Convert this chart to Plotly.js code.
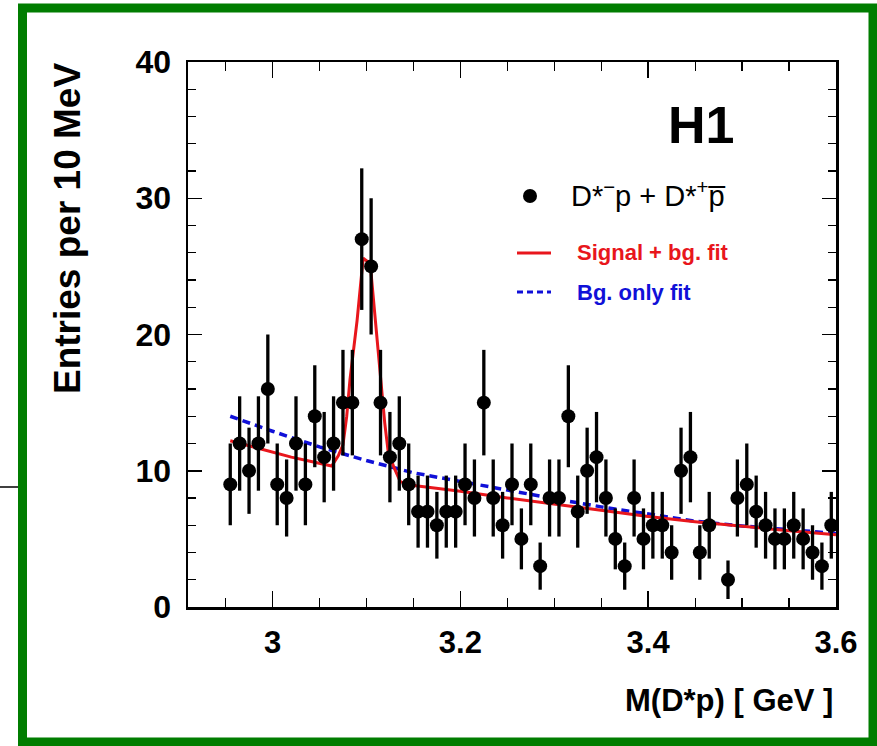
<!DOCTYPE html>
<html>
<head>
<meta charset="utf-8">
<script src="https://cdn.plot.ly/plotly-3.0.1.min.js"></script>
<style>html,body{margin:0;padding:0;background:#fff;}</style>
</head>
<body>
<div id="chart" style="width:877px;height:746px;"></div>
<script>
// Bin centres (GeV), 10 MeV bins
const binCenters = [2.955,2.965,2.975,2.985,2.995,3.005,3.015,3.025,3.035,3.045,
  3.055,3.065,3.075,3.085,3.095,3.105,3.115,3.125,3.135,3.145,
  3.155,3.165,3.175,3.185,3.195,3.205,3.215,3.225,3.235,3.245,
  3.255,3.265,3.275,3.285,3.295,3.305,3.315,3.325,3.335,3.345,
  3.355,3.365,3.375,3.385,3.395,3.405,3.415,3.425,3.435,3.445,
  3.455,3.465,3.475,3.485,3.495,3.505,3.515,3.525,3.535,3.545,
  3.555,3.565,3.575,3.585,3.595];
// Entries per bin
const entries = [9,12,10,12,16,9,8,12,9,14,
  11,12,15,15,27,25,15,11,12,9,
  7,7,6,7,7,9,8,15,8,6,
  9,5,9,3,8,8,14,7,10,11,
  8,5,3,8,5,6,6,4,10,11,
  4,6,0,2,8,9,7,6,5,5,
  6,5,4,3,6];
// Signal + background fit curve
const fitSigX = [2.955,2.98,3.00,3.02,3.04,3.063,3.070,3.075,3.079,3.0825,3.090,3.0965,3.104,3.110,3.116,3.1195,3.123,3.129,3.136,3.146,3.17,3.20,3.25,3.30,3.35,3.40,3.45,3.50,3.55,3.60];
const fitSigY = [12.2,11.75,11.35,11.0,10.7,10.35,11.1,11.9,14.0,16.7,21.0,25.6,25.2,20.8,16.0,13.5,11.5,10.3,9.2,8.95,8.75,8.5,8.0,7.55,7.05,6.65,6.25,5.9,5.6,5.3];
// Background-only fit curve
const fitBgX = [2.955,3.00,3.05,3.10,3.15,3.20,3.25,3.30,3.35,3.40,3.45,3.50,3.55,3.60];
const fitBgY = [14.0,12.9,11.75,10.75,9.85,9.2,8.6,7.95,7.35,6.8,6.3,5.95,5.65,5.4];
// Axis ticks
const xTickVals = [3.0,3.2,3.4,3.6];
const xTickText = ["3","3.2","3.4","3.6"];
const yTickVals = [0,10,20,30,40];

const FONT = "Liberation Sans, Arial, Helvetica, sans-serif";
const W = 877, H = 746, L = 188, R = 836, T = 62, B = 607;
const px = x => (x - L) / (R - L);
const py = y => (B - y) / (B - T);

const shown = binCenters.map((x,i)=>[x,entries[i]]).filter(d=>d[1]>0);
const dataTrace = {
  x: shown.map(d=>d[0]), y: shown.map(d=>d[1]),
  type: 'scatter', mode: 'markers',
  marker: {color:'#000', size:14},
  error_y: {type:'data', array: shown.map(d=>Math.sqrt(d[1])), symmetric:true, color:'#000', thickness:3.3, width:0},
  showlegend:false, cliponaxis:false
};
const bgTrace = {
  x: fitBgX, y: fitBgY, type:'scatter', mode:'lines',
  line:{color:'#1010d8', width:3.5, dash:'8px,5px'}, showlegend:false
};
const sigTrace = {
  x: fitSigX, y: fitSigY, type:'scatter', mode:'lines',
  line:{color:'#e8161c', width:3}, showlegend:false
};

const axisCommon = {
  showline:true, linecolor:'#000', linewidth:2.5, mirror:'allticks',
  ticks:'inside', tickcolor:'#000', tickwidth:1.5,
  showgrid:false, zeroline:false
};

const layout = {
  width: W, height: H,
  margin: {l:L, r:W-R, t:T, b:H-B, pad:0},
  paper_bgcolor:'#fff', plot_bgcolor:'#fff',
  showlegend:false,
  xaxis: Object.assign({}, axisCommon, {
    range:[2.91,3.6], tickmode:'array', tickvals:xTickVals, ticktext:xTickText, ticklen:16,
    ticklabelstandoff:6,
    tickfont:{family:FONT, size:31, color:'#000', weight:'bold'},
    minor:{dtick:0.05, tick0:3.0, ticks:'inside', ticklen:9, tickcolor:'#000', tickwidth:1.2, showgrid:false}
  }),
  yaxis: Object.assign({}, axisCommon, {
    range:[0,40], tickmode:'array', tickvals:yTickVals, ticklen:14,
    ticklabelstandoff:8,
    tickfont:{family:FONT, size:32, color:'#000', weight:'bold'},
    minor:{dtick:2, tick0:0, ticks:'inside', ticklen:8, tickcolor:'#000', tickwidth:1.2, showgrid:false}
  }),
  shapes: [
    {type:'rect', xref:'paper', yref:'paper', x0:px(22.5), x1:px(873), y0:py(742), y1:py(8),
     line:{color:'#007d00', width:9}, fillcolor:'rgba(0,0,0,0)'},
    {type:'line', xref:'paper', yref:'paper', x0:px(0), x1:px(18), y0:py(487), y1:py(487),
     line:{color:'#000', width:1.5}},
    {type:'circle', xref:'paper', yref:'paper', x0:px(523), x1:px(537), y0:py(203), y1:py(189),
     fillcolor:'#000', line:{color:'#000', width:0}},
    {type:'line', xref:'paper', yref:'paper', x0:px(517), x1:px(551), y0:py(253), y1:py(253),
     line:{color:'#e8161c', width:3}},
    {type:'line', xref:'paper', yref:'paper', x0:px(517), x1:px(551), y0:py(292), y1:py(292),
     line:{color:'#1010d8', width:3, dash:'6px,4px'}}
  ],
  annotations: [
    {xref:'paper', yref:'paper', x:px(736), y:py(125), xanchor:'right', yanchor:'middle', showarrow:false,
     text:'H1', font:{family:FONT, size:52, color:'#000', weight:'bold'}},
    {xref:'paper', yref:'paper', x:px(569), y:py(194), xanchor:'left', yanchor:'middle', showarrow:false,
     text:'D*<sup>\u2212</sup>p + D*<sup>+</sup>p\u0305', font:{family:FONT, size:29, color:'#000'}},
    {xref:'paper', yref:'paper', x:px(575), y:py(253), xanchor:'left', yanchor:'middle', showarrow:false,
     text:'Signal + bg. fit', font:{family:FONT, size:22, color:'#e8161c', weight:'bold'}},
    {xref:'paper', yref:'paper', x:px(575), y:py(292), xanchor:'left', yanchor:'middle', showarrow:false,
     text:'Bg. only fit', font:{family:FONT, size:22, color:'#1010d8', weight:'bold'}},
    {xref:'paper', yref:'paper', x:px(835), y:py(700), xanchor:'right', yanchor:'middle', showarrow:false,
     text:'M(D*p) [ GeV ]', font:{family:FONT, size:31, color:'#000', weight:'bold'}},
    {xref:'paper', yref:'paper', x:px(68), y:py(229), xanchor:'center', yanchor:'middle', showarrow:false,
     textangle:-90, text:'Entries per 10 MeV', font:{family:FONT, size:37, color:'#000', weight:'bold'}}
  ]
};

Plotly.newPlot('chart', [bgTrace, sigTrace, dataTrace], layout, {displayModeBar:false, staticPlot:true});
</script>
</body>
</html>
